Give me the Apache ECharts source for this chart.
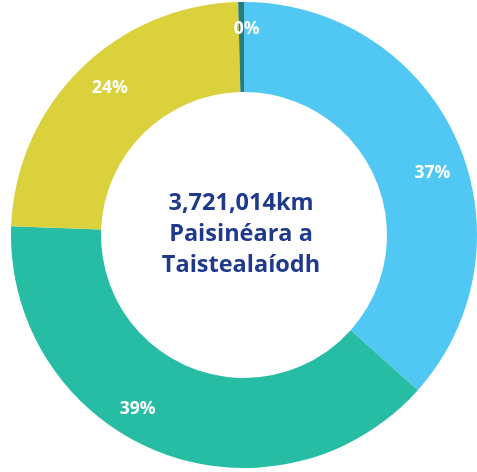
<!DOCTYPE html>
<html>
<head>
<meta charset="utf-8">
<script src="https://cdn.jsdelivr.net/npm/echarts@6/dist/echarts.min.js"></script>
<style>
  html, body { margin: 0; padding: 0; background: #ffffff; }
  #chart { width: 477px; height: 472px; }
</style>
</head>
<body>
<div id="chart"></div>
<script>
// Share of passenger-km travelled, by segment (percent)
const categories = ['A', 'B', 'C', 'D'];
const shares = [36.6, 39.0, 24.0, 0.4];
const colors = ['#51c8f4', '#26bda4', '#dbd13c', '#2a7b78'];
const centerLines = ['3,721,014km', 'Paisinéara a', 'Taistealaíodh'];

// Small nudges for the percent labels, pushing them a little towards the rim
const labelNudge = [[14, 16], [-35, -3], [0, -11], [5, -15]];

const chart = echarts.init(document.getElementById('chart'), null, { renderer: 'canvas' });

chart.setOption({
  backgroundColor: '#ffffff',
  animation: false,
  graphic: [{
    type: 'text',
    x: 241,
    y: 234,
    style: {
      text: centerLines.join('\n'),
      align: 'center',
      verticalAlign: 'middle',
      fontFamily: 'Open Sans',
      fontWeight: 'bold',
      fontSize: 23.5,
      lineHeight: 31,
      fill: '#1f3a8c'
    }
  }],
  series: [{
    type: 'pie',
    center: [244, 235],
    radius: [143, 233],
    startAngle: 90,
    clockwise: true,
    avoidLabelOverlap: false,
    itemStyle: { borderWidth: 0 },
    label: {
      show: true,
      position: 'inside',
      formatter: p => Math.round(p.value) + '%',
      color: '#ffffff',
      fontFamily: 'Open Sans',
      fontWeight: 'bold',
      fontSize: 17.5
    },
    labelLayout: p => ({ dx: labelNudge[p.dataIndex][0], dy: labelNudge[p.dataIndex][1] }),
    labelLine: { show: false },
    emphasis: { disabled: true },
    data: categories.map((c, i) => ({
      name: c,
      value: shares[i],
      itemStyle: { color: colors[i] }
    }))
  }]
});
</script>
</body>
</html>
